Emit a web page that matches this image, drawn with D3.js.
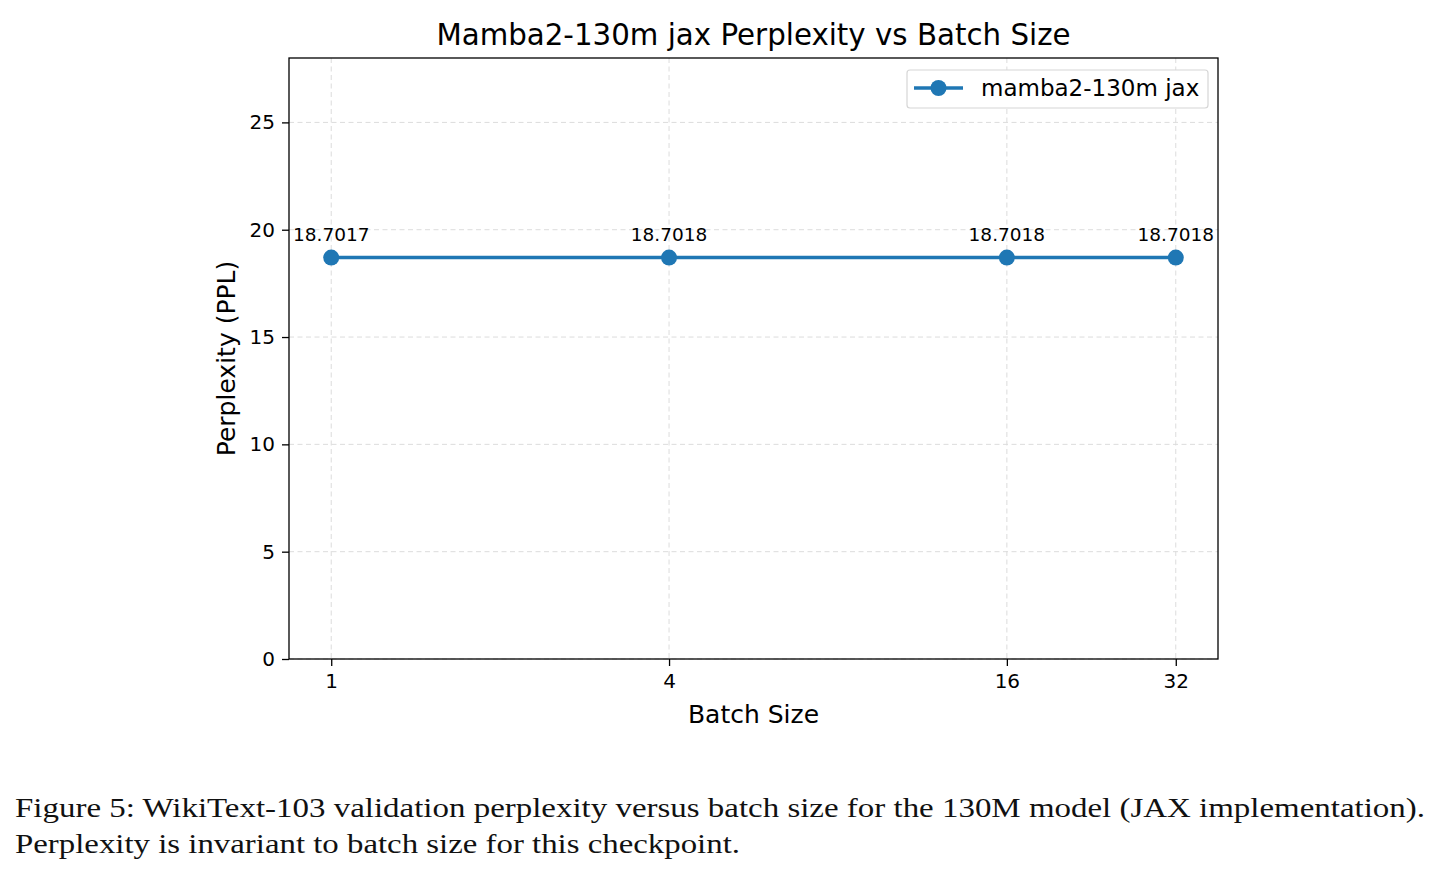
<!DOCTYPE html>
<html><head><meta charset="utf-8">
<script src="https://cdn.jsdelivr.net/npm/d3@7"></script>
<style>
body{margin:0;background:#fff;}
svg{display:block;}
</style></head>
<body>
<svg id="chart" width="1441" height="876"></svg>
<script>
const batchSizes = [1, 4, 16, 32];
const perplexity = [18.7017, 18.7018, 18.7018, 18.7018];
const pointLabels = ["18.7017", "18.7018", "18.7018", "18.7018"];
const yTicks = [0, 5, 10, 15, 20, 25];
const seriesName = "mamba2-130m jax";
const title = "Mamba2-130m jax Perplexity vs Batch Size";
const xLabel = "Batch Size";
const yLabel = "Perplexity (PPL)";
const caption = [
  "Figure 5: WikiText-103 validation perplexity versus batch size for the 130M model (JAX implementation).",
  "Perplexity is invariant to batch size for this checkpoint."
];

const svg = d3.select("#chart");
const L = 289, R = 1218, T = 58, B = 659;
const font = "DejaVu Sans, sans-serif";
const blue = "#1f77b4";

const x = d3.scaleLog().base(2).domain([Math.pow(2, -0.25), Math.pow(2, 5.25)]).range([L, R]);
const y = d3.scaleLinear().domain([0, 28]).range([B, T]);

// grid
const grid = svg.append("g").attr("stroke", "#dcdcdc").attr("stroke-width", 1).attr("stroke-dasharray", "5,3.5");
grid.selectAll(".gx").data(batchSizes).join("line")
  .attr("x1", d => x(d)).attr("x2", d => x(d)).attr("y1", T).attr("y2", B);
grid.selectAll(".gy").data(yTicks).join("line")
  .attr("x1", L).attr("x2", R).attr("y1", d => y(d)).attr("y2", d => y(d));

// axes
const xAxis = d3.axisBottom(x).tickValues(batchSizes).tickFormat(d => String(d)).tickSizeOuter(0).tickSize(7).tickPadding(8);
const yAxis = d3.axisLeft(y).tickValues(yTicks).tickFormat(d => String(d)).tickSizeOuter(0).tickSize(7).tickPadding(7);
const gx = svg.append("g").attr("transform", `translate(0,${B})`).call(xAxis);
const gy = svg.append("g").attr("transform", `translate(${L},0)`).call(yAxis);
[gx, gy].forEach(g => {
  g.select(".domain").remove();
  g.selectAll(".tick line").attr("stroke", "#000").attr("stroke-width", 1.3);
  g.selectAll(".tick text").attr("fill", "#000").style("font-family", font).style("font-size", "20px");
});

// frame
svg.append("rect").attr("x", L).attr("y", T).attr("width", R - L).attr("height", B - T)
  .attr("fill", "none").attr("stroke", "#000").attr("stroke-width", 1.3);

// line
const pts = batchSizes.map((b, i) => ({b, v: perplexity[i], lab: pointLabels[i]}));
svg.append("path").datum(pts)
  .attr("d", d3.line().x(d => x(d.b)).y(d => y(d.v)))
  .attr("fill", "none").attr("stroke", blue).attr("stroke-width", 3.5);
svg.selectAll(".pt").data(pts).join("circle")
  .attr("cx", d => x(d.b)).attr("cy", d => y(d.v)).attr("r", 8).attr("fill", blue);
svg.selectAll(".lab").data(pts).join("text")
  .attr("x", d => x(d.b)).attr("y", d => y(d.v) - 17)
  .attr("text-anchor", "middle").style("font-family", font).style("font-size", "18.5px").text(d => d.lab);

// titles
svg.append("text").attr("x", (L + R) / 2).attr("y", 45).attr("text-anchor", "middle")
  .style("font-family", font).style("font-size", "29.3px").text(title);
svg.append("text").attr("x", (L + R) / 2).attr("y", 723).attr("text-anchor", "middle")
  .style("font-family", font).style("font-size", "25px").text(xLabel);
svg.append("text").attr("transform", `translate(235,${(T + B) / 2}) rotate(-90)`).attr("text-anchor", "middle")
  .style("font-family", font).style("font-size", "25px").text(yLabel);

// legend
const lg = svg.append("g");
lg.append("rect").attr("x", 907).attr("y", 70).attr("width", 301).attr("height", 38).attr("rx", 3)
  .attr("fill", "#fff").attr("stroke", "#d6d6d6").attr("stroke-width", 1.2);
lg.append("line").attr("x1", 914).attr("x2", 963).attr("y1", 88).attr("y2", 88).attr("stroke", blue).attr("stroke-width", 3.5);
lg.append("circle").attr("cx", 938.5).attr("cy", 88).attr("r", 8).attr("fill", blue);
lg.append("text").attr("x", 981).attr("y", 96).style("font-family", font).style("font-size", "23px").text(seriesName);

// caption
const capLens = [1410, 725];
svg.selectAll(".cap").data(caption).join("text")
  .attr("x", 15).attr("y", (d, i) => 817 + i * 36)
  .attr("textLength", (d, i) => capLens[i]).attr("lengthAdjust", "spacingAndGlyphs")
  .style("font-family", "Liberation Serif, DejaVu Serif, serif").style("font-size", "28px").attr("fill", "#111")
  .text(d => d);
</script>
</body></html>
